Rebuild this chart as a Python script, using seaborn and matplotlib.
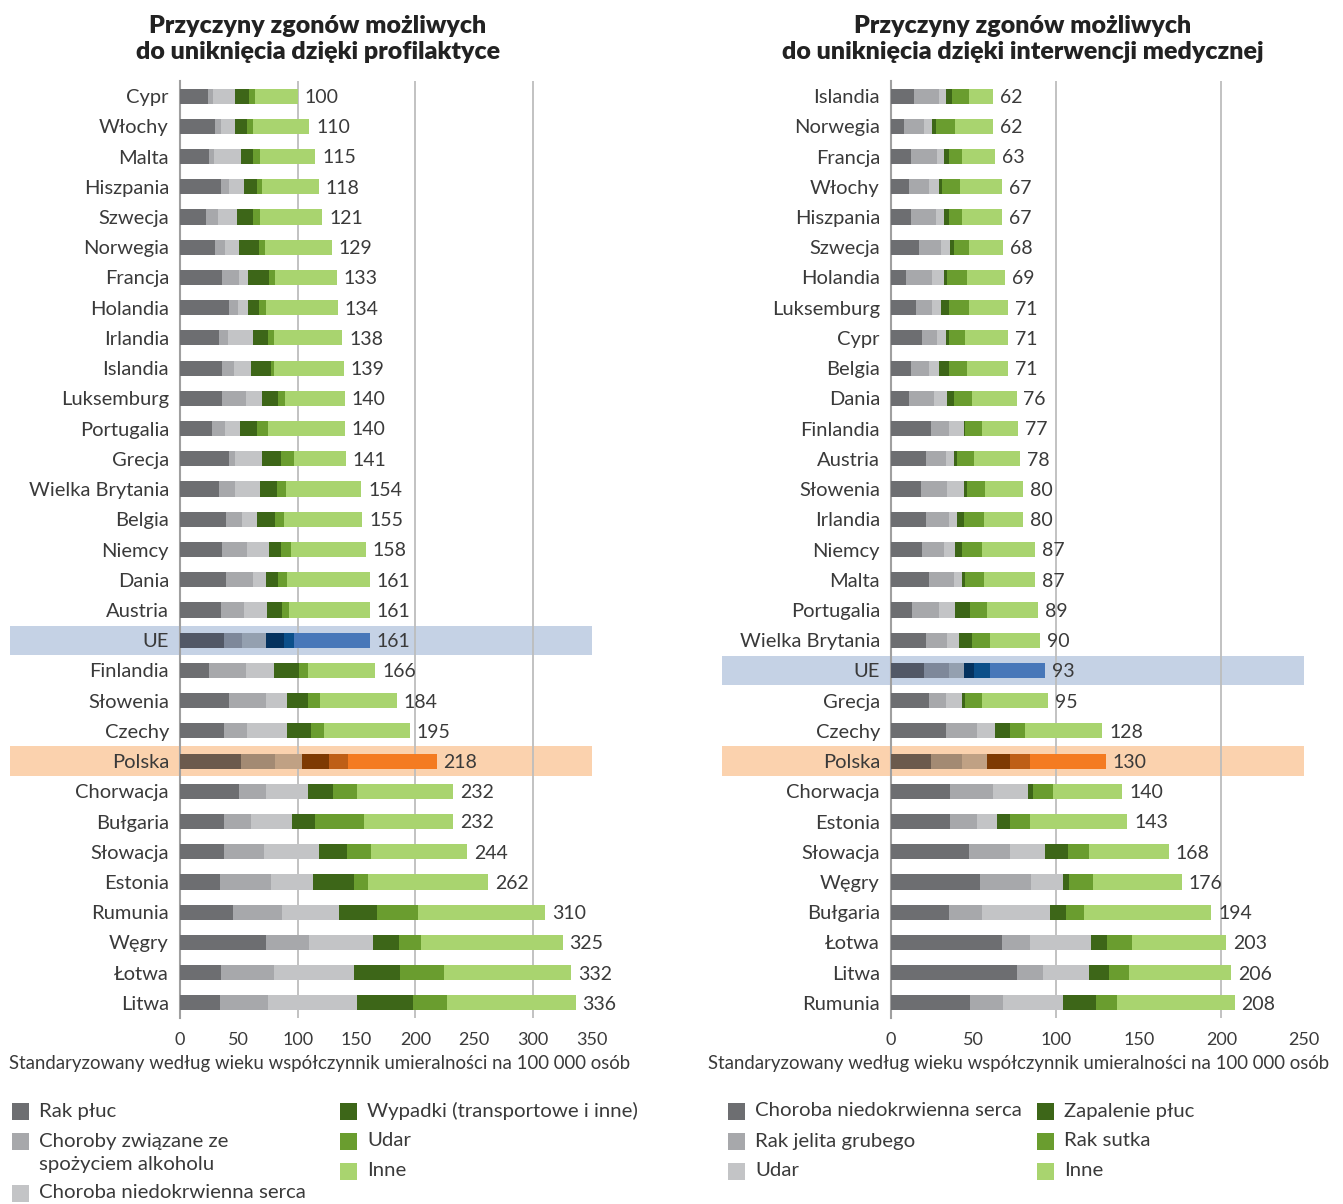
import numpy as np
import pandas as pd
import matplotlib
matplotlib.use("Agg")
import matplotlib.pyplot as plt
import matplotlib.transforms as mtrans
from matplotlib.patches import Rectangle
import seaborn as sns

## left panel: deaths avoidable through prevention
prev_countries = ["Cypr", "Włochy", "Malta", "Hiszpania", "Szwecja", "Norwegia", "Francja",
                  "Holandia", "Irlandia", "Islandia", "Luksemburg", "Portugalia", "Grecja",
                  "Wielka Brytania", "Belgia", "Niemcy", "Dania", "Austria", "UE", "Finlandia",
                  "Słowenia", "Czechy", "Polska", "Chorwacja", "Bułgaria", "Słowacja",
                  "Estonia", "Rumunia", "Węgry", "Łotwa", "Litwa"]
prev_rak_pluc = [24, 30, 25, 35, 22, 30, 36, 42, 33, 36, 36, 27, 42, 33, 39, 36, 39, 35, 37, 25,
                 42, 37, 52, 50, 37, 37, 34, 45, 73, 35, 34]
prev_alkohol = [4, 5, 4, 7, 10, 8, 14, 7, 8, 10, 20, 11, 5, 14, 14, 21, 23, 19, 16, 31,
                31, 20, 29, 23, 23, 34, 43, 42, 37, 45, 41]
prev_serce = [19, 12, 23, 12, 16, 12, 8, 9, 21, 14, 14, 13, 23, 21, 12, 19, 11, 20, 20, 24,
              18, 34, 23, 36, 35, 47, 36, 48, 54, 68, 75]
prev_wypadki = [12, 10, 10, 11, 14, 17, 18, 9, 13, 17, 13, 14, 16, 14, 16, 10, 10, 13, 15, 21,
                18, 20, 23, 21, 20, 24, 35, 32, 22, 39, 48]
prev_udar = [5, 5, 6, 5, 6, 5, 5, 6, 5, 3, 6, 10, 11, 8, 7, 8, 8, 6, 9, 8,
             10, 11, 16, 20, 41, 20, 12, 35, 19, 37, 29]
prev_inne = [36, 48, 47, 48, 53, 57, 52, 61, 58, 59, 51, 65, 44, 64, 67, 64, 70, 68, 64, 57,
             65, 73, 75, 82, 76, 82, 102, 108, 120, 108, 109]
prev_totals = [100, 110, 115, 118, 121, 129, 133, 134, 138, 139, 140, 140, 141, 154, 155, 158,
               161, 161, 161, 166, 184, 195, 218, 232, 232, 244, 262, 310, 325, 332, 336]
prev_legend = ["Rak płuc", "Choroby związane ze\nspożyciem alkoholu", "Choroba niedokrwienna serca",
               "Wypadki (transportowe i inne)", "Udar", "Inne"]

## right panel: deaths avoidable through medical intervention
med_countries = ["Islandia", "Norwegia", "Francja", "Włochy", "Hiszpania", "Szwecja", "Holandia",
                 "Luksemburg", "Cypr", "Belgia", "Dania", "Finlandia", "Austria", "Słowenia",
                 "Irlandia", "Niemcy", "Malta", "Portugalia", "Wielka Brytania", "UE", "Grecja",
                 "Czechy", "Polska", "Chorwacja", "Estonia", "Słowacja", "Węgry", "Bułgaria",
                 "Łotwa", "Litwa", "Rumunia"]
med_serce = [14, 8, 12, 11, 12, 17, 9, 15, 19, 12, 11, 24, 21, 18, 21, 19, 23, 13, 21, 20,
             23, 33, 24, 36, 36, 47, 54, 35, 67, 76, 48]
med_jelito = [15, 12, 16, 12, 15, 13, 16, 10, 9, 11, 15, 11, 12, 16, 14, 13, 15, 16, 13, 15,
              10, 19, 19, 26, 16, 25, 31, 20, 17, 16, 20]
med_udar = [4, 5, 4, 6, 5, 6, 7, 5, 5, 6, 8, 9, 5, 10, 5, 7, 5, 10, 7, 9,
            10, 11, 15, 21, 12, 21, 19, 41, 37, 28, 36]
med_zapalenie = [4, 2, 3, 2, 3, 2, 2, 5, 2, 6, 4, 1, 2, 2, 4, 4, 2, 9, 8, 6,
                 2, 9, 14, 3, 8, 14, 4, 10, 10, 12, 20]
med_sutek = [10, 12, 8, 11, 8, 9, 12, 12, 10, 11, 11, 10, 10, 11, 12, 12, 11, 10, 11, 10,
             10, 9, 12, 12, 12, 13, 14, 11, 15, 12, 13]
med_inne = [15, 23, 20, 25, 24, 21, 23, 24, 26, 25, 27, 22, 28, 23, 24, 32, 31, 31, 30, 33,
            40, 47, 46, 42, 59, 48, 54, 77, 57, 62, 71]
med_totals = [62, 62, 63, 67, 67, 68, 69, 71, 71, 71, 76, 77, 78, 80, 80, 87, 87, 89, 90, 93,
              95, 128, 130, 140, 143, 168, 176, 194, 203, 206, 208]
med_legend = ["Choroba niedokrwienna serca", "Rak jelita grubego", "Udar",
              "Zapalenie płuc", "Rak sutka", "Inne"]

base_colors = ["#6d6e71", "#a7a8ab", "#c3c4c6", "#3d6618", "#6a9d2f", "#a9d46f"]
ue_colors = ["#525866", "#7e889a", "#94a0b0", "#04325f", "#0b4f8a", "#4777b9"]
pl_colors = ["#6b5a4d", "#a38a73", "#c0a184", "#7e3a02", "#be5f17", "#f47b21"]
ue_band = "#c5d2e5"
pl_band = "#fbd2ae"
text_color = "#3a3a3a"

sns.set_style("white")
plt.rcParams["font.family"] = ["Lato", "DejaVu Sans"]

W, H = 1343, 1204
fig = plt.figure(figsize=(W / 100, H / 100), dpi=100)


def draw_panel(ax, countries, segments, totals, xmax, band_left):
    cum = np.cumsum(np.array(segments), axis=0)
    df = pd.DataFrame({"country": countries})
    # stacked look: draw cumulative totals from the outermost segment inward
    for k in range(len(segments) - 1, -1, -1):
        df["value"] = cum[k]
        pal = {}
        for c in countries:
            if c == "UE":
                pal[c] = ue_colors[k]
            elif c == "Polska":
                pal[c] = pl_colors[k]
            else:
                pal[c] = base_colors[k]
        sns.barplot(data=df, x="value", y="country", hue="country", palette=pal,
                    order=countries, hue_order=countries, orient="h", width=0.5,
                    dodge=False, legend=False, errorbar=None, saturation=1,
                    linewidth=0, ax=ax, zorder=3)

    for i, t in enumerate(totals):
        ax.annotate(str(t), (cum[-1][i], i), xytext=(5, -1), textcoords="offset points",
                    va="center", ha="left", fontsize=14, color=text_color)

    trans = mtrans.blended_transform_factory(ax.transAxes, ax.transData)
    for name, col in [("UE", ue_band), ("Polska", pl_band)]:
        i = countries.index(name)
        ax.add_patch(Rectangle((band_left, i - 0.485), 1 - band_left, 0.97, transform=trans,
                               facecolor=col, edgecolor="none", clip_on=False, zorder=0))

    for x in range(100, xmax, 100):
        ax.axvline(x, color="#bdbdbd", lw=1.3, zorder=1)

    ax.set_xlim(0, xmax)
    ax.set_ylim(len(countries) - 0.5, -0.5)
    ax.set_xticks(range(0, xmax + 1, 50))
    ax.set_xlabel("")
    ax.set_ylabel("")
    sns.despine(ax=ax, bottom=True)
    ax.spines["left"].set_color("#a0a0a0")
    ax.spines["left"].set_linewidth(1.5)
    ax.tick_params(axis="both", length=0, colors=text_color)
    ax.tick_params(axis="y", labelsize=14.5, pad=8)
    ax.tick_params(axis="x", labelsize=13, pad=10)


def draw_legend(labels, colors, cols_x, rows_y):
    for lab, col, cx, ry in zip(labels, colors, cols_x, rows_y):
        fig.patches.append(Rectangle((cx / W, 1 - (ry + 8.5) / H), 17 / W, 17 / H,
                                     transform=fig.transFigure, facecolor=col,
                                     edgecolor="none"))
        if "\n" in lab:
            fig.text((cx + 27) / W, 1 - (ry - 8) / H, lab, ha="left", va="top",
                     fontsize=14.7, color=text_color, linespacing=1.4)
        else:
            fig.text((cx + 27) / W, 1 - ry / H, lab, ha="left", va="center",
                     fontsize=14.7, color=text_color)


ax_l = fig.add_axes([180 / W, 1 - 1018 / H, 412 / W, 937 / H])
ax_r = fig.add_axes([891 / W, 1 - 1018 / H, 413 / W, 937 / H])

draw_panel(ax_l, prev_countries,
           [prev_rak_pluc, prev_alkohol, prev_serce, prev_wypadki, prev_udar, prev_inne],
           prev_totals, 350, -0.413)
draw_panel(ax_r, med_countries,
           [med_serce, med_jelito, med_udar, med_zapalenie, med_sutek, med_inne],
           med_totals, 250, -0.409)

title_font = dict(family=["Lato", "DejaVu Sans"], fontweight="heavy",
                  fontsize=18, color="#222222", ha="center", va="center", linespacing=1.2)
fig.text(318 / W, 1 - 39 / H, "Przyczyny zgonów możliwych\ndo uniknięcia dzięki profilaktyce",
         **title_font)
fig.text(1023 / W, 1 - 39 / H,
         "Przyczyny zgonów możliwych\ndo uniknięcia dzięki interwencji medycznej", **title_font)

xlab = "Standaryzowany według wieku współczynnik umieralności na 100 000 osób"
fig.text(320 / W, 1 - 1064 / H, xlab, ha="center", va="center", fontsize=13.4, color=text_color)
fig.text(1019 / W, 1 - 1064 / H, xlab, ha="center", va="center", fontsize=13.4, color=text_color)

draw_legend(prev_legend, base_colors, [12, 12, 12, 340, 340, 340],
            [1111, 1141, 1193, 1111, 1141, 1171])
draw_legend(med_legend, base_colors, [728, 728, 728, 1037, 1037, 1037],
            [1111, 1141, 1171, 1111, 1141, 1171])

fig.savefig("out.png", dpi=100, facecolor="white")
